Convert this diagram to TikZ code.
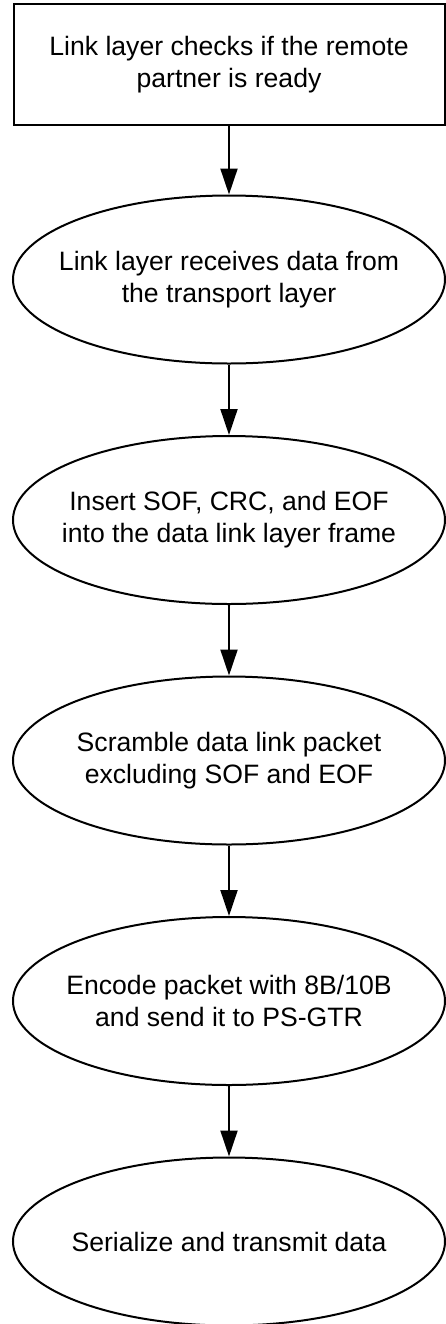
\documentclass[tikz,border=0pt]{standalone}
\usepackage{fontspec}
\setmainfont{Liberation Sans}
\usepackage{tikz}
\usetikzlibrary{positioning,arrows.meta,shapes.geometric}

\begin{document}
\begin{tikzpicture}[
  x=0.5pt, y=-0.5pt,
  >={Triangle[length=13pt, width=8.5pt]},
  font=\fontsize{13.3}{16}\selectfont,
  stepbox/.style   = {rectangle, draw=black, line width=1pt, fill=white,
                      minimum width=215.5pt, minimum height=60.5pt,
                      align=center, inner sep=1pt},
  stepoval/.style  = {ellipse, draw=black, line width=1pt, fill=white,
                      minimum width=216pt, minimum height=84pt,
                      align=center, inner xsep=-20pt, inner ysep=0pt},
  flow/.style      = {->, draw=black, line width=1pt},
]
\useasboundingbox (0,0) rectangle (445,1324);

% Readiness check on top
\node[stepbox] (check) at (229, 64.5) {%
  Link layer checks if the remote\\
  partner is ready};

% Transmit steps, one oval each
\node[stepoval] (recv) at (229, 279.5) {%
  Link layer receives data from\\
  the transport layer};
\node[stepoval] (frame) at (229, 520) {%
  Insert SOF, CRC, and EOF\\
  into the data link layer frame};
\node[stepoval] (scram) at (229, 760.5) {%
  Scramble data link packet\\
  excluding SOF and EOF};
\node[stepoval] (enc) at (229, 1001) {%
  Encode packet with 8B/10B\\
  and send it to PS-GTR};
\node[stepoval] (ser) at (229, 1241.5) {%
  Serialize and transmit data};

% Connector arrows
\draw[flow] (check) -- (recv);
\draw[flow] (recv)  -- (frame);
\draw[flow] (frame) -- (scram);
\draw[flow] (scram) -- (enc);
\draw[flow] (enc)   -- (ser);
\end{tikzpicture}
\end{document}
